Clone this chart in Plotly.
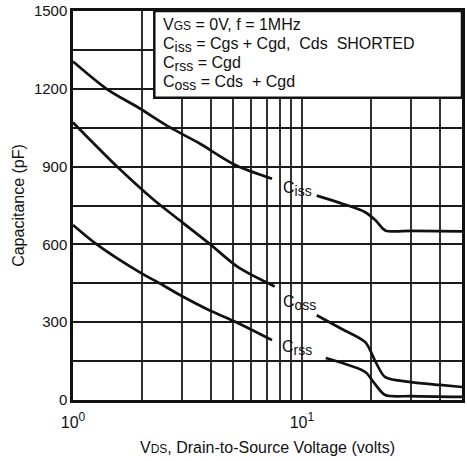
import math
import plotly.graph_objects as go

# ---- data ----
ciss_x = [1, 1.40, 1.95, 2.64, 3.56, 5.14, 7.4, None, 11.6, 15, 18.9, 21, 23.1, 30, 50]
ciss_y = [1305, 1200, 1125, 1052, 990, 905, 853, None, 788, 757, 724, 692, 654, 652, 650]

coss_x = [1, 1.557, 2.23, 3.0, 3.94, 5.3, 7.6, None, 11.6, 15, 18.9, 21, 23.1, 30, 40, 50]
coss_y = [1070, 900, 775, 685, 603, 510, 438, None, 327, 273, 223, 146, 88, 69, 58, 50]

crss_x = [1, 1.27, 1.95, 2.39, 3.0, 3.94, 5.14, 7.4, None, 12.7, 18.9, 20.5, 23.1, 30, 50]
crss_y = [675, 600, 493, 450, 400, 346, 301, 231, None, 162, 108, 70, 19, 15, 12]

SUP = "<sup><span style=\"font-size:12px\">{}</span></sup>"
SUB = "<sub><span style=\"font-size:14px\">{}</span></sub>"

x_tickvals = [1, 2, 3, 4, 5, 6, 7, 8, 9, 10, 20, 30, 40]
x_ticktext = ["10" + SUP.format("0"), "", "", "", "", "", "", "", "",
              "10" + SUP.format("1"), "", "", ""]
y_tickvals = [0, 150, 300, 450, 600, 750, 900, 1050, 1200, 1350, 1500]
y_ticktext = ["0", "", "300", "", "600", "", "900", "", "1200", "", "1500"]

labels = [("C" + SUB.format("iss"), 8.1, 812), ("C" + SUB.format("oss"), 8.1, 373),
          ("C" + SUB.format("rss"), 8.0, 200)]

legend_lines = [
    "V<span style=\"font-size:12px\">GS</span> = 0V, f = 1MHz",
    "C" + SUB.format("iss") + " = Cgs + Cgd,  Cds  SHORTED",
    "C" + SUB.format("rss") + " = Cgd",
    "C" + SUB.format("oss") + " = Cds  + Cgd",
]

FONT = "Liberation Sans, Arial, sans-serif"

fig = go.Figure()
for xs, ys in [(ciss_x, ciss_y), (coss_x, coss_y), (crss_x, crss_y)]:
    fig.add_trace(go.Scatter(x=xs, y=ys, mode="lines", connectgaps=False,
                             line=dict(color="#111111", width=2.7, shape="spline", smoothing=0.8),
                             showlegend=False))

for txt, xv, yv in labels:
    fig.add_annotation(x=math.log10(xv), y=yv, xref="x", yref="y", text=txt, showarrow=False,
                       xanchor="left", yanchor="middle",
                       font=dict(family=FONT, size=16, color="#111"))

# legend box
fig.add_shape(type="rect", xref="paper", yref="paper", x0=0.209, x1=1.0, y0=0.777, y1=1.0,
              line=dict(color="#111", width=2.5), fillcolor="white", layer="above")
ys_leg = [0.965, 0.912, 0.864, 0.815]
for txt, yv in zip(legend_lines, ys_leg):
    fig.add_annotation(x=0.226, y=yv, xref="paper", yref="paper", text=txt, showarrow=False,
                       xanchor="left", yanchor="middle",
                       font=dict(family=FONT, size=16, color="#111"))

fig.update_layout(
    width=467, height=461,
    margin=dict(l=73, r=2, t=10, b=61),
    paper_bgcolor="white", plot_bgcolor="white",
    font=dict(family=FONT, size=14, color="#111"),
    xaxis=dict(type="log", range=[0, math.log10(50)],
               tickvals=x_tickvals, ticktext=x_ticktext,
               showgrid=True, gridcolor="#333", gridwidth=1.5,
               showline=True, linecolor="#111", linewidth=2.5, mirror=True,
               ticks="outside", ticklen=6, tickcolor="white",
               tickfont=dict(family=FONT, size=16),
               title=dict(text="V<span style=\"font-size:12px\">DS</span>, Drain-to-Source Voltage (volts)",
                          font=dict(family=FONT, size=16), standoff=12),
               zeroline=False),
    yaxis=dict(range=[0, 1500], tickvals=y_tickvals, ticktext=y_ticktext,
               showgrid=True, gridcolor="#1a1a1a", gridwidth=2,
               showline=True, linecolor="#111", linewidth=2.5, mirror=True,
               ticks="", tickfont=dict(family=FONT, size=15),
               title=dict(text="Capacitance (pF)", font=dict(family=FONT, size=16), standoff=6),
               zeroline=False),
)

fig.write_html("out.html")
